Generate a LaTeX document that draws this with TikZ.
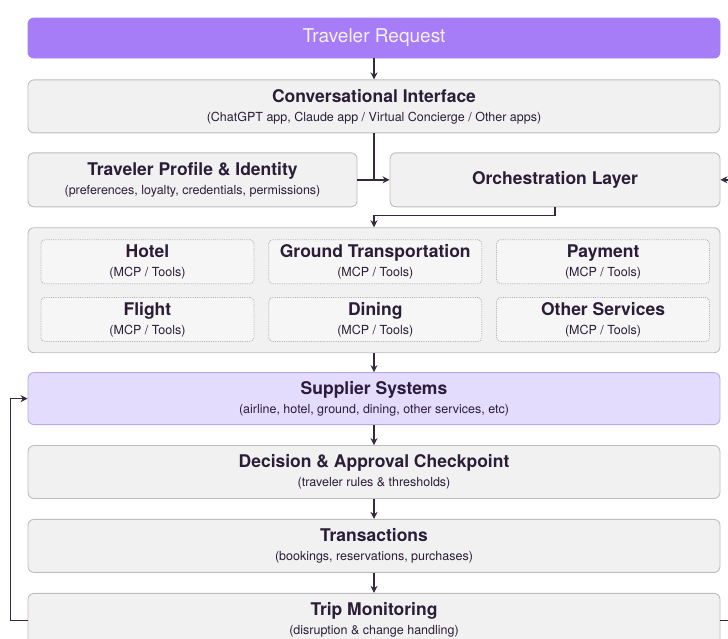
\documentclass[tikz,border=0pt]{standalone}
\usepackage{fontspec}
\setmainfont{TeX Gyre Heros}
\usetikzlibrary{arrows.meta, positioning, calc}
\definecolor{reqfill}{HTML}{A77CF7}
\definecolor{reqtext}{HTML}{F6F1FF}
\definecolor{boxfill}{HTML}{F1F1F1}
\definecolor{boxline}{HTML}{BDBDBD}
\definecolor{supfill}{HTML}{E4DCFC}
\definecolor{supline}{HTML}{B8A9DF}
\definecolor{toolfill}{HTML}{F6F6F6}
\definecolor{dotline}{HTML}{B0B0B0}
\definecolor{ink}{HTML}{2B1D38}
\definecolor{flowcol}{HTML}{35283F}
\newcommand{\boxhead}{\fontsize{17.5}{20}\selectfont\bfseries}
\newcommand{\boxnote}{\fontsize{12.5}{15}\selectfont}

\begin{document}
\begin{tikzpicture}[x=1pt, y=1pt, node distance={21pt},
	layer/.style = {draw=boxline, fill=boxfill, rounded corners=6pt, minimum width=692pt, minimum height=53pt, inner sep=0pt, align=center, text=ink, font=\boxnote, line width=0.9pt},
	tool/.style = {draw=dotline, fill=toolfill, densely dotted, rounded corners=4pt, minimum width=213pt, minimum height=44pt, inner sep=0pt, align=center, text=ink, font=\boxnote, line width=0.8pt},
	flow/.style = {draw=flowcol, line width=1.5pt, -{Stealth[length=7pt, width=7pt]}},
	link/.style = {draw=flowcol, line width=1.5pt}]
		\useasboundingbox (0,0) rectangle (728,-638);
		\clip (0,0) rectangle (728,-638);
		\node[layer, fill=reqfill, draw=reqfill, minimum height=40pt, text=reqtext] (req) at (374,-38) {\fontsize{19}{22}\selectfont Traveler Request};
		\node[layer] (conv) [below=of req] {{\boxhead Conversational Interface}\\[4pt](ChatGPT app, Claude app / Virtual Concierge / Other apps)};
		\node[layer, minimum width=329pt, minimum height=54pt] (profile) [below right=19pt and 0pt of conv.south west] {{\boxhead Traveler Profile \& Identity}\\[4pt](preferences, loyalty, credentials, permissions)};
		\node[layer, minimum width=330pt, minimum height=54pt] (orch) [below left=19pt and 0pt of conv.south east] {\boxhead Orchestration Layer};
		\coordinate (join) at (conv.south |- orch.west);
		\coordinate (mid) at (req.south |- profile.south);
		\node[layer, minimum height=125pt] (pool) [below=20pt of mid] {};
		\node[tool] (hotel) [below right=12pt and 13pt of pool.north west] {{\boxhead Hotel}\\[4pt](MCP / Tools)};
		\node[tool] (ground) [right=14pt of hotel] {{\boxhead Ground Transportation}\\[4pt](MCP / Tools)};
		\node[tool] (payment) [right=14pt of ground] {{\boxhead Payment}\\[4pt](MCP / Tools)};
		\node[tool] (flight) [below=13pt of hotel] {{\boxhead Flight}\\[4pt](MCP / Tools)};
		\node[tool] (dining) [right=14pt of flight] {{\boxhead Dining}\\[4pt](MCP / Tools)};
		\node[tool] (other) [right=14pt of dining] {{\boxhead Other Services}\\[4pt](MCP / Tools)};
		\node[layer, fill=supfill, draw=supline, minimum height=52pt] (supplier) [below=19pt of pool] {{\boxhead Supplier Systems}\\[4pt](airline, hotel, ground, dining, other services, etc)};
		\node[layer] (decision) [below=20pt of supplier] {{\boxhead Decision \& Approval Checkpoint}\\[4pt](traveler rules \& thresholds)};
		\node[layer] (trans) [below=20pt of decision] {{\boxhead Transactions}\\[4pt](bookings, reservations, purchases)};
		\node[layer, minimum height=54pt] (trip) [below=20pt of trans] {{\boxhead Trip Monitoring}\\[4pt](disruption \& change handling)};
		\draw[flow] (req) -- (conv);
		\draw[link] (conv) -- (join);
		\draw[flow] (profile) -- (orch);
		\draw[flow] (orch.south) -- ++(0,-8) -| (pool.north);
		\draw[flow] (pool) -- (supplier);
		\draw[flow] (supplier) -- (decision);
		\draw[flow] (decision) -- (trans);
		\draw[flow] (trans) -- (trip);
		\draw[flow] (trip.west) -- ++(-17,0) |- (supplier.west);
		\draw[flow] (trip.east) -- ++(14,0) |- (orch.east);
	\end{tikzpicture}
\end{document}
